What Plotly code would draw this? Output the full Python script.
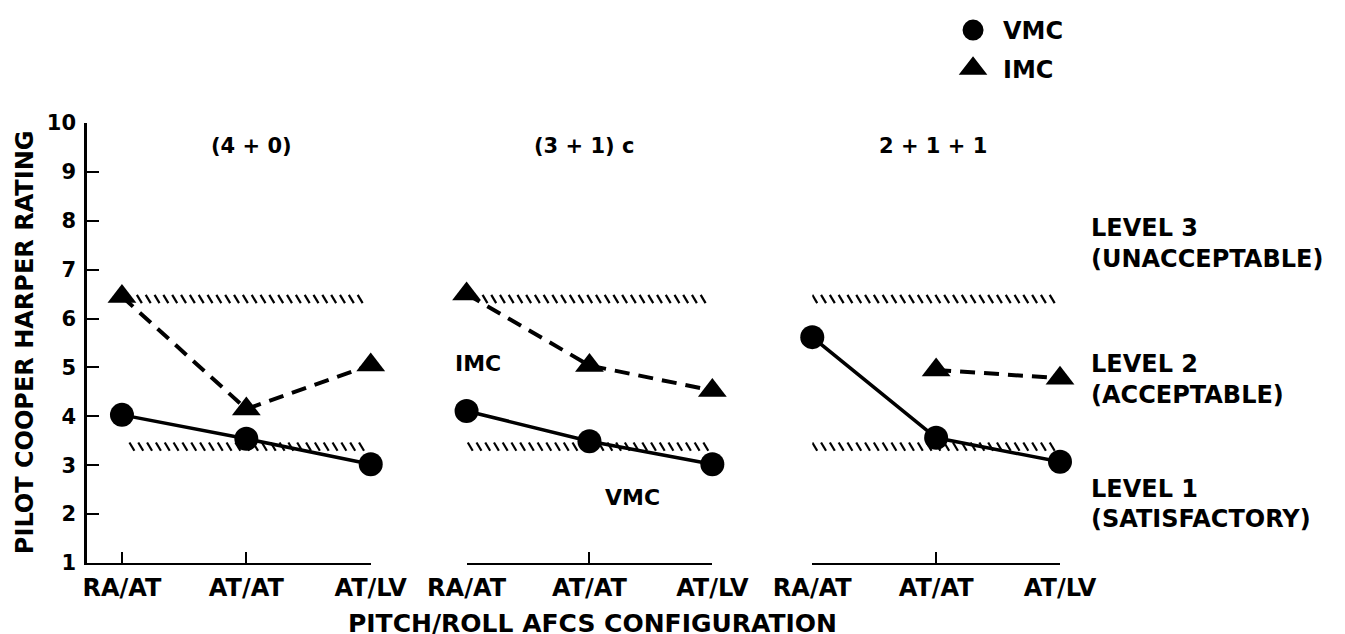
import numpy as np
import plotly.graph_objects as go

# ---------------- data ----------------
configs = ["RA/AT", "AT/AT", "AT/LV"]
panel_titles = ["(4 + 0)", "(3 + 1) c", "2 + 1 + 1"]
vmc = [[4.03, 3.54, 3.02], [4.11, 3.49, 3.02], [5.62, 3.56, 3.07]]
imc = [[6.45, 4.15, 5.05], [6.50, 5.04, 4.53], [None, 4.95, 4.78]]
level_bounds = [6.40, 3.38]  # boundaries Level 3/2 and Level 2/1
hatch_spans = [
    [(0.12, 1.97), (0.06, 1.99)],
    [(0.13, 1.97), (0.01, 1.99)],
    [(0.00, 2.00), (0.00, 2.00)],
]
level_text = ["LEVEL 3", "(UNACCEPTABLE)", "LEVEL 2", "(ACCEPTABLE)", "LEVEL 1", "(SATISFACTORY)"]
level_text_y = [7.85, 7.22, 5.07, 4.44, 2.51, 1.90]
y_ticks = list(range(1, 11))

FONT = "DejaVu Sans"
BLACK = "#000000"

fig = go.Figure()

# hatched level boundaries
step, dx, dh = 0.071, 0.04, 0.085
for p in range(3):
    hx, hy = [], []
    for lvl, (a, b) in zip(level_bounds, hatch_spans[p]):
        for x in np.arange(a, b - dx + 1e-9, step):
            hx += [x, x + dx, None]
            hy += [lvl + dh, lvl - dh, None]
    sfx = "" if p == 0 else str(p + 1)
    fig.add_trace(go.Scatter(x=hx, y=hy, mode="lines", line=dict(color=BLACK, width=2.2),
                             xaxis="x" + sfx, yaxis="y" + sfx, showlegend=False, hoverinfo="skip"))

xpos = [0, 1, 2]
for p in range(3):
    sfx = "" if p == 0 else str(p + 1)
    fig.add_trace(go.Scatter(x=xpos, y=imc[p], mode="lines+markers", cliponaxis=False,
                             line=dict(color=BLACK, width=4, dash="15px,9px"),
                             marker=dict(symbol="triangle-up", size=25, color=BLACK),
                             xaxis="x" + sfx, yaxis="y" + sfx, showlegend=False))
    fig.add_trace(go.Scatter(x=xpos, y=vmc[p], mode="lines+markers", cliponaxis=False,
                             line=dict(color=BLACK, width=3.5),
                             marker=dict(symbol="circle", size=24, color=BLACK),
                             xaxis="x" + sfx, yaxis="y" + sfx, showlegend=False))

# legend-only entries
fig.add_trace(go.Scatter(x=[None], y=[None], mode="markers", name="VMC", legendgroup="v",
                         marker=dict(symbol="circle", size=16, color=BLACK,
                                     line=dict(color=BLACK, width=5))))
fig.add_trace(go.Scatter(x=[None], y=[None], mode="markers", name="IMC", legendgroup="i",
                         marker=dict(symbol="triangle-up", size=16, color=BLACK,
                                     line=dict(color=BLACK, width=5))))

BOLD24 = dict(family=FONT, size=24, color=BLACK, weight="bold")
xcommon = dict(tickvals=xpos, ticktext=configs, showline=True, linewidth=2, linecolor=BLACK,
               ticks="inside", ticklen=11, tickwidth=2, tickcolor=BLACK, showgrid=False,
               zeroline=False, tickfont=BOLD24, ticklabelstandoff=2, automargin=False)
ycommon = dict(range=[1, 10], showgrid=False, zeroline=False, automargin=False)

def note(text, x, y, size=24, yref="paper", xanchor="center", angle=0):
    return dict(text=text, x=x, y=y, xref="paper", yref=yref, xanchor=xanchor,
                yanchor="middle", textangle=angle, showarrow=False,
                font=dict(family=FONT, size=size, color=BLACK, weight="bold"))

annotations = []
title_x = [0.169, 0.511, 0.869]
for t, xp in zip(panel_titles, title_x):
    annotations.append(note(t, xp, 0.948, size=21))
for t, yv in zip(level_text, level_text_y):
    annotations.append(note(t, 1.0298, yv, yref="y", xanchor="left"))
annotations.append(note("IMC", 0.4016, 0.4545, size=22))
annotations.append(note("VMC", 0.5606, 0.148, size=22))
annotations.append(note("PITCH/ROLL AFCS CONFIGURATION", 0.5195, -0.137, size=25))
annotations.append(note("PILOT COOPER HARPER RATING", -0.0637, 0.502, angle=-90))

# the page body adds an 8px margin; margins below compensate so the plot area
# lands at x 87..1060, y 123..563 in the screenshot
fig.update_layout(
    width=1345, height=634,
    margin=dict(l=79, r=293, t=115, b=79, autoexpand=False),
    paper_bgcolor="white", plot_bgcolor="white",
    font=dict(family=FONT, color=BLACK),
    xaxis=dict(domain=[0, 0.2916], range=[-0.281, 2], anchor="y", **xcommon),
    xaxis2=dict(domain=[0.3901, 0.6427], range=[0, 2], anchor="y2", **xcommon),
    xaxis3=dict(domain=[0.7454, 1.0], range=[0, 2], anchor="y3", **xcommon),
    yaxis=dict(tickvals=y_ticks, showline=True, linewidth=2.5, linecolor=BLACK,
               ticks="inside", ticklen=12, tickwidth=2, tickcolor=BLACK,
               tickfont=dict(family=FONT, size=21, color=BLACK, weight="bold"), ticklabelstandoff=4,
               anchor="x", **ycommon),
    yaxis2=dict(visible=False, anchor="x2", **ycommon),
    yaxis3=dict(visible=False, anchor="x3", **ycommon),
    legend=dict(xref="container", yref="container", x=0.6952, y=1.018,
                xanchor="left", yanchor="top", bgcolor="rgba(0,0,0,0)",
                font=BOLD24, tracegroupgap=4, itemwidth=50),
    annotations=annotations,
    showlegend=True,
)

fig.write_html("out.html")
